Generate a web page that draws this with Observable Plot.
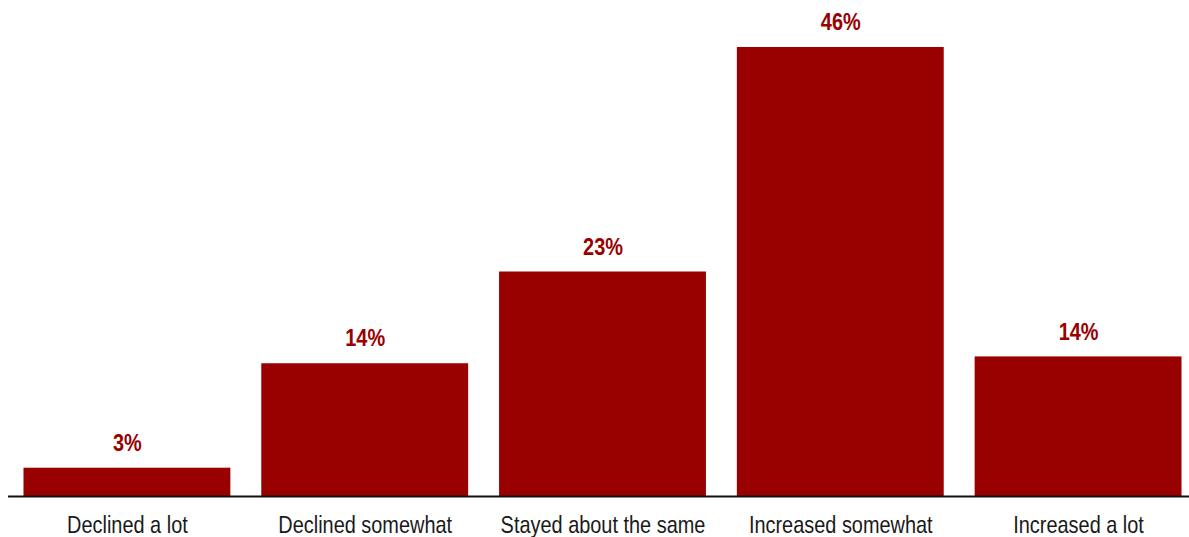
<!DOCTYPE html>
<html>
<head>
<meta charset="utf-8">
<script src="https://cdn.jsdelivr.net/npm/d3@7"></script>
<script src="https://cdn.jsdelivr.net/npm/@observablehq/plot@0.6"></script>
<style>
  html, body { margin: 0; padding: 0; background: #fff; }
  #chart svg { display: block; }
</style>
</head>
<body>
<div id="chart"></div>
<script>
const categories = ["Declined a lot", "Declined somewhat", "Stayed about the same", "Increased somewhat", "Increased a lot"];
const values = [2.9, 13.6, 23, 46, 14.3];
const labels = ["3%", "14%", "23%", "46%", "14%"];

const data = categories.map((c, i) => ({category: c, value: values[i], label: labels[i]}));
const font = "'Liberation Sans Narrow', 'Arial Narrow', 'Liberation Sans', Arial, sans-serif";
const red = "#990000";

const chart = Plot.plot({
  width: 1189,
  height: 537,
  marginTop: 47,
  marginBottom: 41,
  marginLeft: 8,
  marginRight: 0,
  style: {fontFamily: font, background: "#fff"},
  x: {domain: categories, insetLeft: 8, paddingInner: 0.13, paddingOuter: 0.0315, round: false, label: null},
  y: {domain: [0, 46], axis: null},
  marks: [
    Plot.barY(data, {x: "category", y: "value", fill: red}),
    Plot.ruleY([0], {stroke: "#111", strokeWidth: 2}),
    Plot.text(data, {x: "category", y: "value", text: "label", dy: -25, fill: red, fontWeight: "bold", fontSize: 24, fontFamily: font}),
    Plot.axisX({tickSize: 0, tickPadding: 19, fontSize: 24, fill: "#1a1a1a", fontFamily: font, label: null})
  ]
});
// condense text horizontally (narrow font look): wrap each text in a group carrying its original transform
const NS = "http://www.w3.org/2000/svg";
Array.from(chart.querySelectorAll("text")).forEach(t => {
  const g = document.createElementNS(NS, "g");
  const old = t.getAttribute("transform");
  if (old) g.setAttribute("transform", old);
  t.parentNode.insertBefore(g, t);
  g.appendChild(t);
  const x = parseFloat(t.getAttribute("x")) || 0;
  const y = parseFloat(t.getAttribute("y")) || 0;
  t.setAttribute("transform", "translate(" + x + "," + y + ") scale(0.83,1) translate(" + (-x) + "," + (-y) + ")");
});
document.getElementById("chart").appendChild(chart);
</script>
</body>
</html>
